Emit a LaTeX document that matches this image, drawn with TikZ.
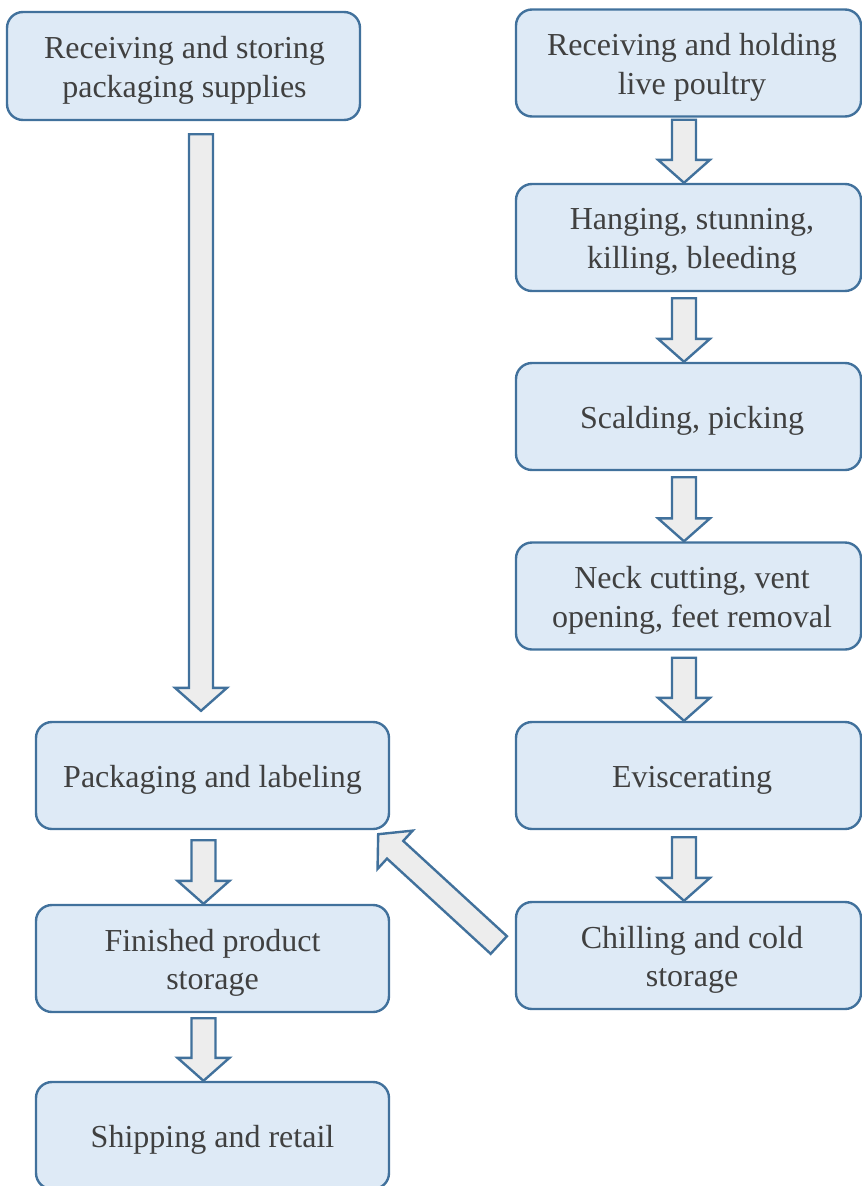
\documentclass[tikz,border=0pt]{standalone}
\usepackage{fontspec}
\setmainfont{Liberation Serif}
\usetikzlibrary{calc}
\definecolor{boxfill}{HTML}{DEEAF6}
\definecolor{boxline}{HTML}{41719C}
\definecolor{arrfill}{HTML}{EDEDED}
\definecolor{txt}{HTML}{404040}
\tikzset{
  stepbox/.style={draw=boxline, line width=2.4pt, fill=boxfill, rounded corners=16pt,
    minimum width=345pt, minimum height=107pt, inner sep=0pt},
  leftbox/.style={stepbox, minimum width=353pt},
  steptext/.style={inner sep=0pt, align=center, text=txt, font=\fontsize{32}{38.4}\selectfont},
  blockarr/.style={draw=boxline, line width=2.4pt, fill=arrfill, line join=miter},
}
\newcommand\blockarrow[2]{%
  \coordinate (bh) at ($(#2)!23pt!(#1)$);
  \draw[blockarr] ($(#1)!12pt!90:(#2)$) -- ($(bh)!12pt!90:(#2)$) -- ($(bh)!26pt!90:(#2)$)
    -- (#2) -- ($(bh)!26pt!-90:(#2)$) -- ($(bh)!12pt!-90:(#2)$) -- ($(#1)!12pt!-90:(#2)$) -- cycle;}
\newcommand\stepnode[5]{% style, name, position, text xshift, text
  \node[#1] (#2) at (#3) {};
  \node[steptext] (#2t) at ([xshift=#4,yshift=-4.5pt]#2.center) {#5};}
\begin{document}
\begin{tikzpicture}[x=1pt,y=-1pt]
\useasboundingbox (0,0) rectangle (862,1186);
% left column
\stepnode{leftbox, minimum height=108pt}{a}{183.5,66}{1pt}{Receiving and storing\\packaging supplies}
\stepnode{leftbox}{l1}{212.5,775.5}{0pt}{Packaging and labeling}
\stepnode{leftbox}{l2}{212.5,958.5}{0pt}{Finished product\\storage}
\stepnode{leftbox}{l3}{212.5,1135.5}{0pt}{Shipping and retail}
% right column
\stepnode{stepbox}{r1}{688.5,63}{3.5pt}{Receiving and holding\\live poultry}
\stepnode{stepbox}{r2}{688.5,237.5}{3.5pt}{Hanging, stunning,\\killing, bleeding}
\stepnode{stepbox}{r3}{688.5,416.5}{3.5pt}{Scalding, picking}
\stepnode{stepbox}{r4}{688.5,596}{3.5pt}{Neck cutting, vent\\opening, feet removal}
\stepnode{stepbox}{r5}{688.5,775.5}{3.5pt}{Eviscerating}
\stepnode{stepbox}{r6}{688.5,955.5}{3.5pt}{Chilling and cold\\storage}
% arrows
\blockarrow{[xshift=-4.5pt,yshift=-2pt]r1.south}{[xshift=-4.5pt]r2.north}
\blockarrow{[xshift=-4.5pt,yshift=-6pt]r2.south}{[xshift=-4.5pt]r3.north}
\blockarrow{[xshift=-4.5pt,yshift=-6pt]r3.south}{[xshift=-4.5pt]r4.north}
\blockarrow{[xshift=-4.5pt,yshift=-7pt]r4.south}{[xshift=-4.5pt]r5.north}
\blockarrow{[xshift=-4.5pt,yshift=-7pt]r5.south}{[xshift=-4.5pt]r6.north}
\blockarrow{[xshift=17.5pt,yshift=-13pt]a.south}{[xshift=-11.5pt,yshift=10pt]l1.north}
\blockarrow{[xshift=-9pt,yshift=-10pt]l1.south}{[xshift=-9pt]l2.north}
\blockarrow{[xshift=-9pt,yshift=-5pt]l2.south}{[xshift=-9pt]l3.north}
\blockarrow{[xshift=-16pt,yshift=10.5pt]r6.west}{[xshift=-12pt,yshift=-4pt]l1.south east}
\end{tikzpicture}
\end{document}
